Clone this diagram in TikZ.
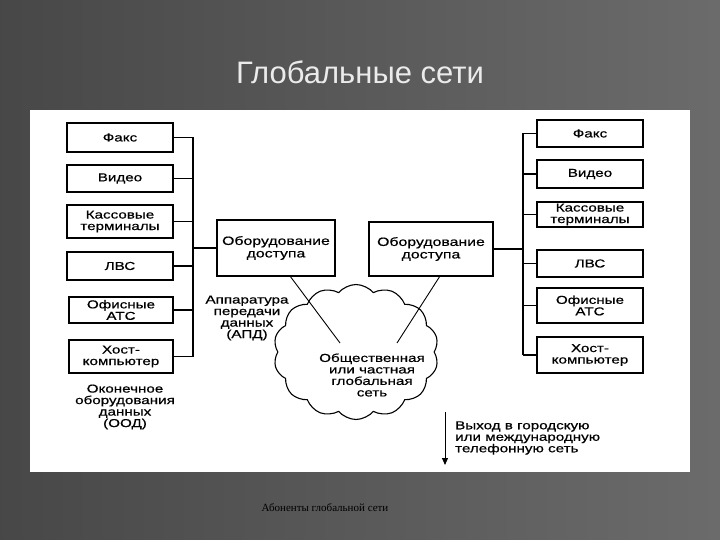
\documentclass[tikz,border=0pt]{standalone}
\usepackage{fontspec}
\setmainfont[FakeStretch=1.32,FakeBold=0.6]{Liberation Sans}
\newfontfamily\titlefont{Liberation Sans}
\newfontfamily\serifcap{Liberation Serif}
\usetikzlibrary{shapes.symbols,arrows.meta}
\tikzset{
 eq/.style={draw,line width=1.2pt,fill=white,minimum width=106pt,align=center,font=\fontsize{11.5}{11.5}\selectfont,inner sep=1pt},
 acc/.style={draw,line width=1.2pt,fill=white,align=center,font=\fontsize{12}{12.5}\selectfont,inner sep=1pt},
 lbl/.style={align=center,font=\fontsize{11.5}{11.5}\selectfont,inner sep=0pt},
 ln/.style={line width=1.2pt}
}
\begin{document}
\begin{tikzpicture}[x=1pt,y=-1pt]
\useasboundingbox (0,0) rectangle (720,540);
\shade[left color=black!72,right color=black!58] (0,0) rectangle (720,540);
\fill[white] (30,110) rectangle (690,472);
\node (title) at (360,72) {\titlefont\fontsize{31}{34}\selectfont\color{black!8}Глобальные сети};
\node (cap) at (325,508) {\serifcap\fontsize{11}{13}\selectfont Абоненты глобальной сети};
% left boxes
\node[eq,minimum height=29pt] (l1) at (120,137.5) {Факс};
\node[eq,minimum height=27pt] (l2) at (120,178.5) {Видео};
\node[eq,minimum height=33pt] (l3) at (120,221.5) {Кассовые\\терминалы};
\node[eq,minimum height=28pt] (l4) at (120,266) {ЛВС};
\node[eq,minimum height=26pt,minimum width=104pt] (l5) at (121,310) {Офисные\\АТС};
\node[eq,minimum height=33pt,minimum width=104pt] (l6) at (121,356.5) {Хост-\\компьютер};
\coordinate (lb1) at (193,137.5);
\coordinate (lb6) at (193,356.5);
\draw[ln] (lb1) -- (lb6);
\foreach \i in {1,...,6} \draw[ln] (l\i.east) -- (l\i.east -| lb1);
\node[acc,minimum width=118pt,minimum height=56pt] (la) at (276,248) {Оборудование\\доступа};
\draw[ln] (la.west) -- (la.west -| lb1);
\node[lbl] (ood) at (125,407) {Оконечное\\оборудования\\данных\\(ООД)};
\node[lbl] (apd) at (247,318) {Аппаратура\\передачи\\данных\\(АПД)};
% right boxes
\node[eq,minimum height=27pt] (r1) at (590,133.5) {Факс};
\node[eq,minimum height=28pt] (r2) at (590,174) {Видео};
\node[eq,minimum height=25pt] (r3) at (590,214.5) {Кассовые\\терминалы};
\node[eq,minimum height=27pt] (r4) at (590,263.5) {ЛВС};
\node[eq,minimum height=35pt] (r5) at (590,305.5) {Офисные\\АТС};
\node[eq,minimum height=36pt] (r6) at (590,355) {Хост-\\компьютер};
\coordinate (rb1) at (523,133.5);
\coordinate (rb6) at (523,355);
\draw[ln] (rb1) -- (rb6);
\foreach \i in {1,...,6} \draw[ln] (r\i.west) -- (r\i.west -| rb1);
\node[acc,minimum width=124pt,minimum height=54pt] (ra) at (431,249) {Оборудование\\доступа};
\draw[ln] (ra.east) -- (ra.east -| rb1);
% cloud
\node[cloud,draw,line width=1.1pt,cloud puffs=14,cloud puff arc=100,aspect=1.5,minimum width=165pt,minimum height=135pt] (net) at (356,352) {};
\node[lbl] (nett) at (372,375) {Общественная\\или частная\\глобальная\\сеть};
\coordinate (la2) at (340,343);
\coordinate (ra2) at (397,343);
\draw[line width=0.9pt] (290,276) -- (la2);
\draw[line width=0.9pt] (440,276) -- (ra2);
\coordinate (ex) at (445,465);
\draw[line width=1pt,-{Triangle[width=6pt,length=7pt]}] (445,412) -- (ex);
\node[lbl,align=left,anchor=west] (exl) at (455,438) {Выход в городскую\\или международную\\телефонную сеть};
\end{tikzpicture}
\end{document}
